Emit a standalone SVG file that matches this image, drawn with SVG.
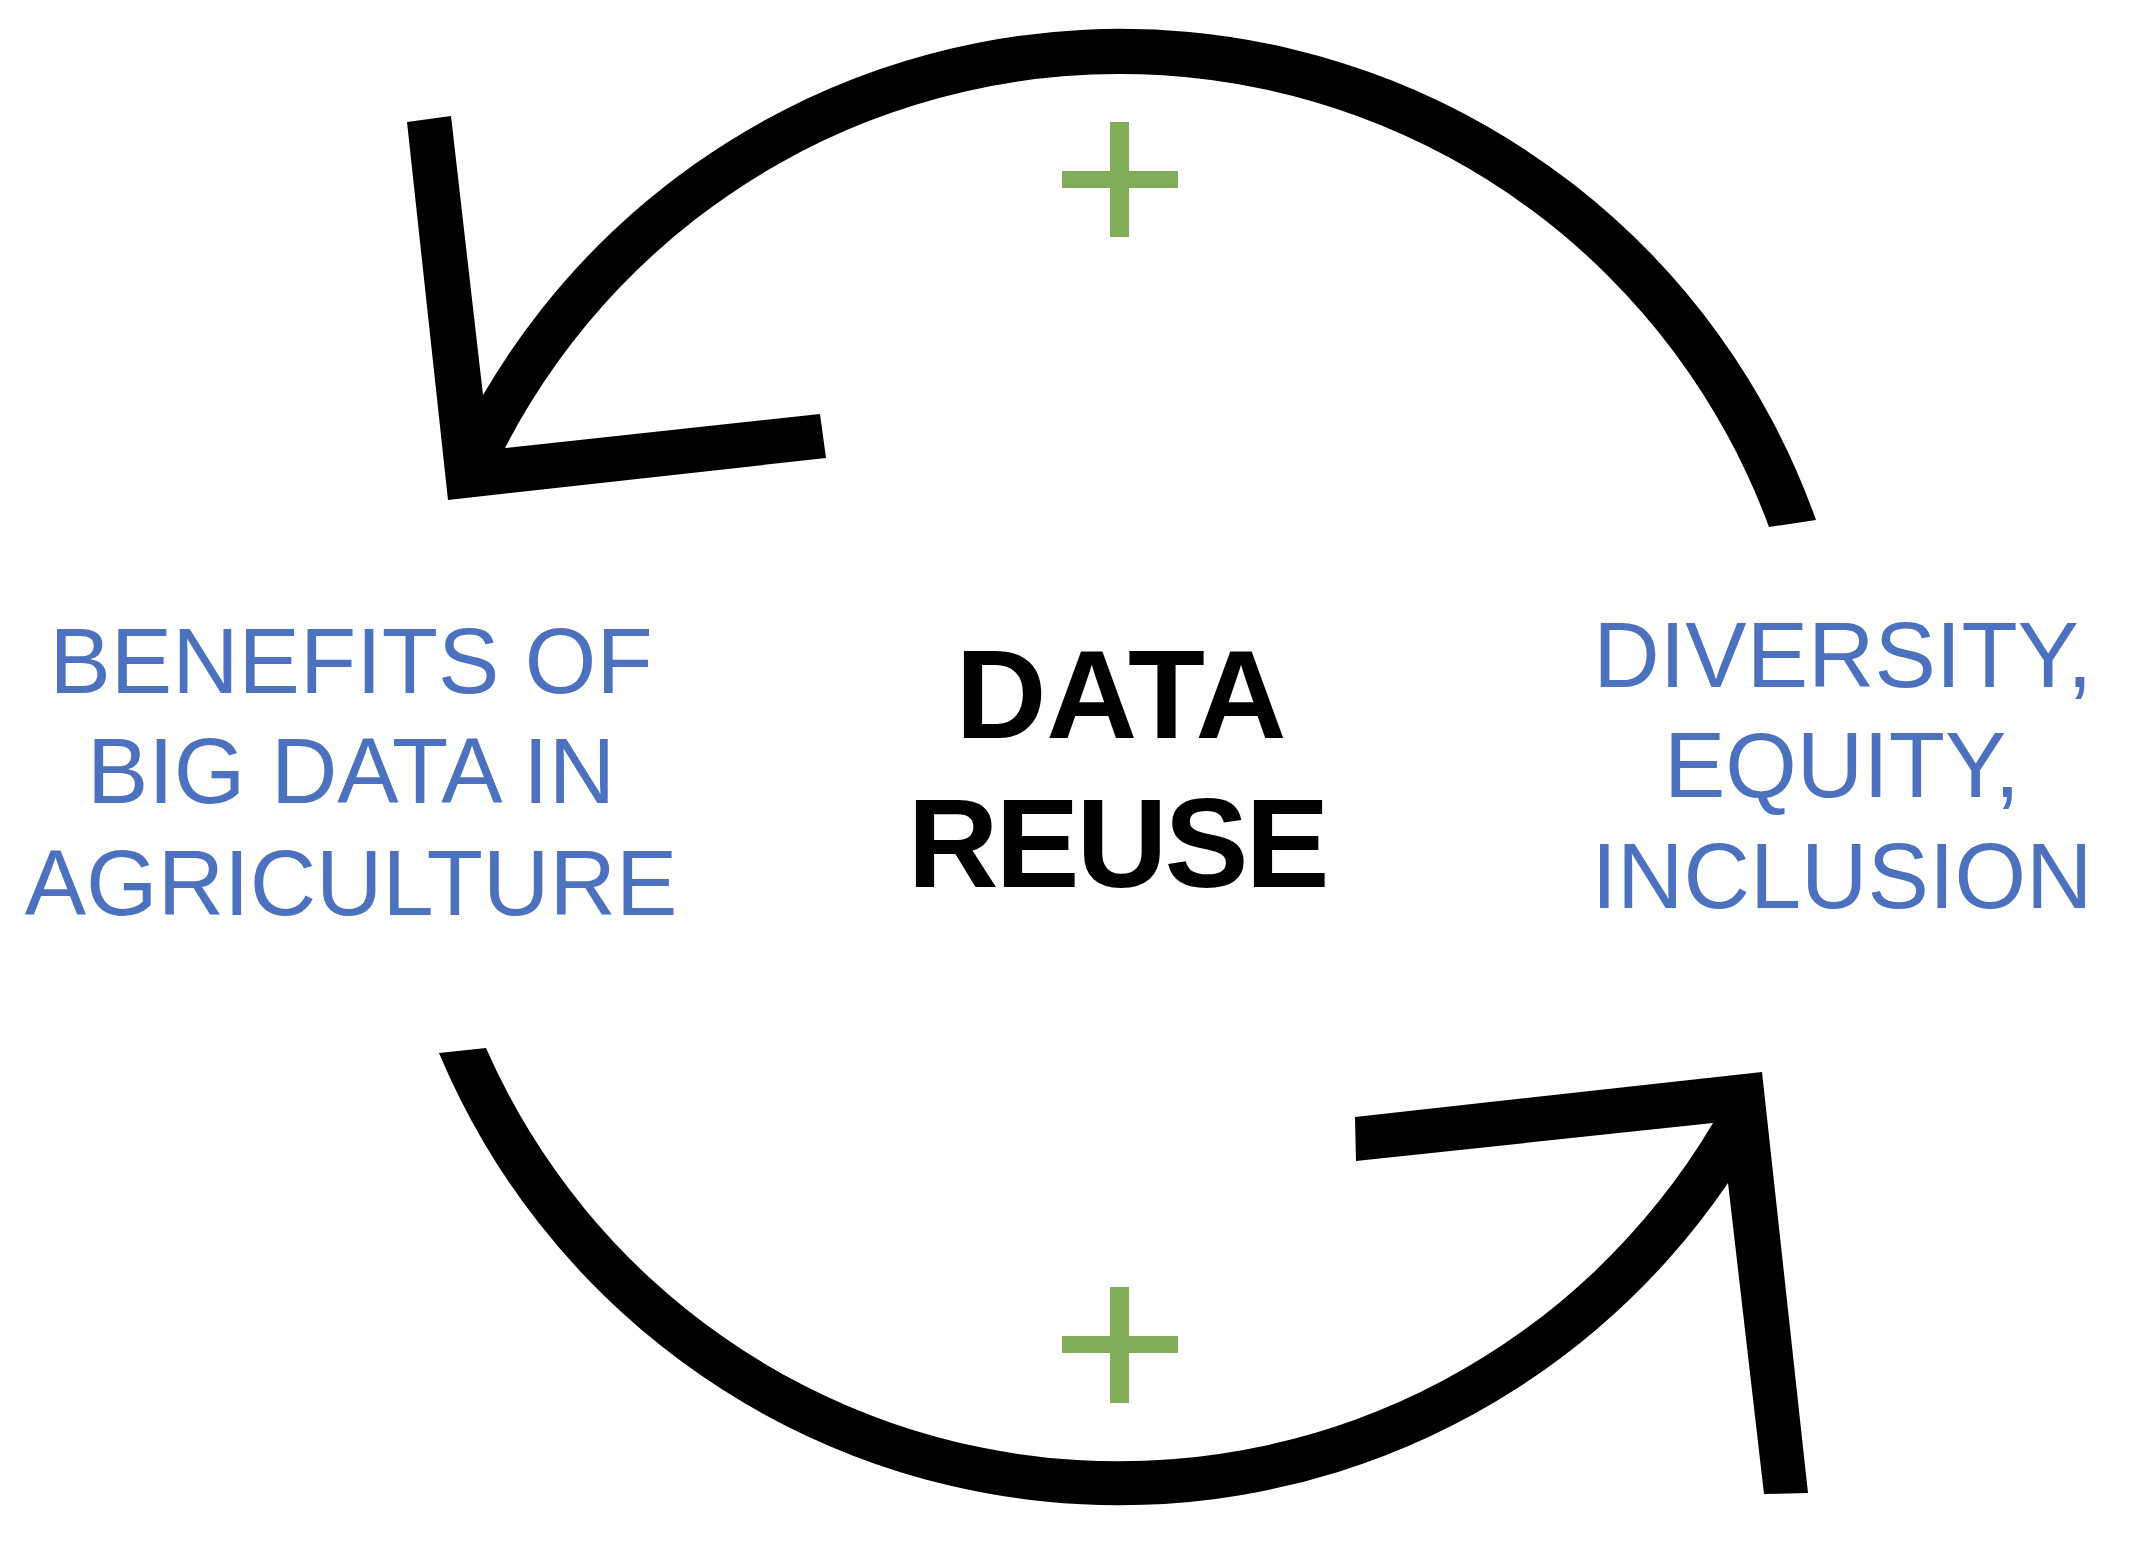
<svg xmlns="http://www.w3.org/2000/svg" width="2130" height="1558" viewBox="0 0 2130 1558">
  <style>
    .side { font-family: "Liberation Sans", Arial, sans-serif; font-size: 92px; fill: #4C71BF; text-anchor: middle; }
    .core { font-family: "Liberation Sans", Arial, sans-serif; font-size: 126px; font-weight: bold; fill: #000000; text-anchor: middle; }
    .arrow { fill: #000000; stroke: none; }
    .plus { stroke: #82AD58; stroke-linecap: butt; }
  </style>
  <rect x="0" y="0" width="2130" height="1558" fill="#FFFFFF"/>
  <g id="connectors">
    <path id="arrow-top" class="arrow" d="M 1816 520 A 738 738 0 0 0 483 395 L 451 116 L 407 122 L 448 500 L 826 458 L 820 414 L 505 448 A 692 692 0 0 1 1769 527 Z"/>
    <path id="arrow-bottom" class="arrow" d="M 439 1053 A 737 737 0 0 0 1728 1183 L 1764 1494 L 1808 1493 L 1762 1072 L 1355 1117 L 1356 1161 L 1713 1123 A 691 691 0 0 1 486 1048 Z"/>
    <g id="plus-top">
      <line class="plus" x1="1119.5" y1="122" x2="1119.5" y2="237" stroke-width="19"/>
      <line class="plus" x1="1062" y1="179.5" x2="1178" y2="179.5" stroke-width="17"/>
    </g>
    <g id="plus-bottom">
      <line class="plus" x1="1119.5" y1="1287" x2="1119.5" y2="1403" stroke-width="19"/>
      <line class="plus" x1="1062" y1="1344.5" x2="1178" y2="1344.5" stroke-width="17"/>
    </g>
  </g>
  <g id="node-benefits">
    <text class="side" x="351" y="693">BENEFITS OF</text>
    <text class="side" x="351" y="803">BIG DATA IN</text>
    <text class="side" x="351" y="915">AGRICULTURE</text>
  </g>
  <g id="node-data-reuse">
    <text class="core" x="1121" y="738">DATA</text>
    <text class="core" x="1117" y="887" letter-spacing="-3">REUSE</text>
  </g>
  <g id="node-dei">
    <text class="side" x="1843" y="687">DIVERSITY,</text>
    <text class="side" x="1842" y="797">EQUITY,</text>
    <text class="side" x="1842" y="908">INCLUSION</text>
  </g>
</svg>
